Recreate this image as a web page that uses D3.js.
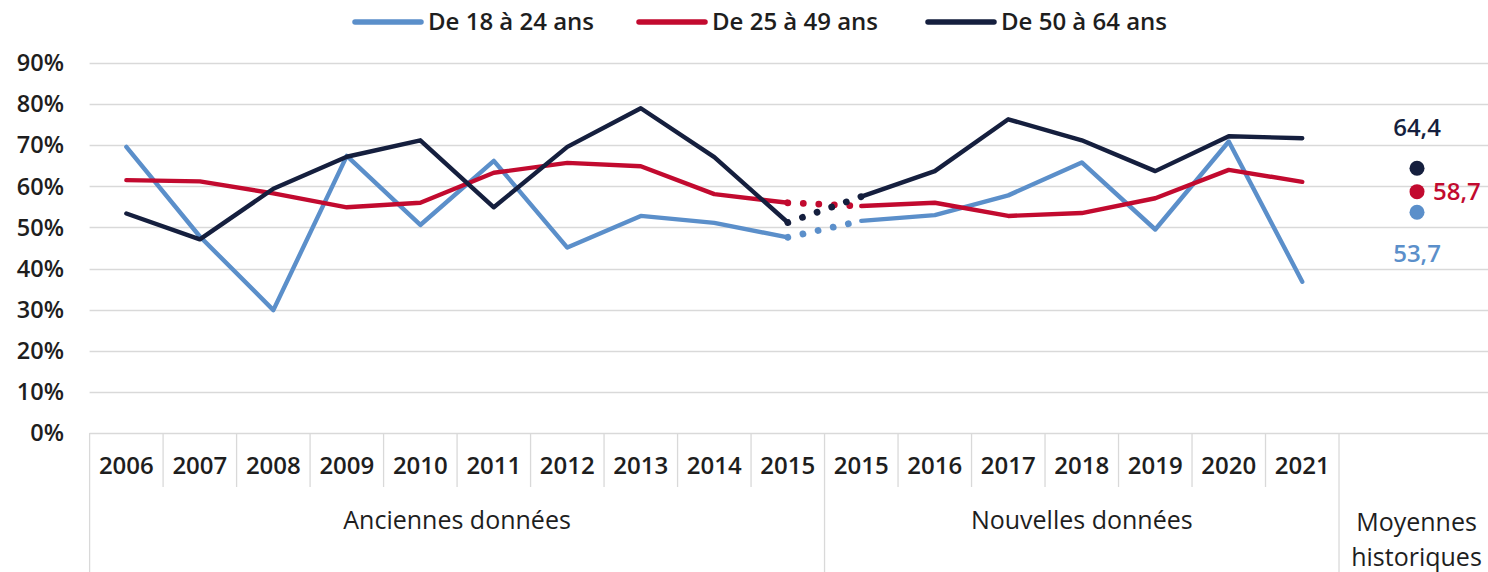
<!DOCTYPE html>
<html><head><meta charset="utf-8">
<script src="https://cdn.jsdelivr.net/npm/d3@7"></script>
<style>
html,body{margin:0;padding:0;background:#fff;}
text{font-family:"Open Sans","Noto Sans",sans-serif;}
</style></head>
<body><svg id="c" width="1488" height="572"></svg>
<script>
const categories = ["2006","2007","2008","2009","2010","2011","2012","2013","2014","2015","2015","2016","2017","2018","2019","2020","2021"];
const groups = [
  {label:["Anciennes données"], span:10},
  {label:["Nouvelles données"], span:7},
  {label:["Moyennes","historiques"], span:2}
];
const seriesNames = ["De 18 à 24 ans","De 25 à 49 ans","De 50 à 64 ans"];
const young  = [69.6,47.8,29.9,67.4,50.6,66.2,45.1,52.8,51.1,47.6, 51.6,53.0,57.8,65.8,49.5,70.9,36.8];
const mid    = [61.5,61.2,58.3,54.9,56.0,63.3,65.7,64.9,58.1,56.0, 55.2,56.0,52.8,53.5,57.1,64.0,61.1];
const senior = [53.4,47.1,59.4,67.2,71.2,54.9,69.6,79.0,67.1,51.2, 57.5,63.7,76.3,71.2,63.7,72.2,71.7];
const averages = [53.7, 58.7, 64.4];
const yTicks = [0,10,20,30,40,50,60,70,80,90];
const colors = ["#5b8fca","#c20a2f","#151f3e"];

(function(){
const svg = d3.select("#c");
const W = 1488, H = 572;
const pLeft = 89.6, pRight = 1486, pTop = 63, pBottom = 433;
const nSlots = categories.length + 2;
const x = d3.scaleBand().domain(d3.range(nSlots)).range([pLeft, pRight]).padding(0);
const y = d3.scaleLinear().domain([0, 90]).range([pBottom, pTop]);
const cx = i => x(i) + x.bandwidth()/2;
const grid = "#d9d9d9";
const txt = "#1e1e1e";
const FS = 24;

svg.append("g").selectAll("line").data(yTicks).join("line")
  .attr("x1", pLeft).attr("x2", W).attr("y1", d=>Math.round(y(d))+0.5).attr("y2", d=>Math.round(y(d))+0.5)
  .attr("stroke", grid).attr("stroke-width", 1.3);

svg.append("g").selectAll("text").data(yTicks).join("text")
  .attr("x", 64).attr("y", d=>y(d)).attr("dy","0.35em").attr("text-anchor","end")
  .attr("font-size", 23.5).attr("font-weight", 600).attr("fill", txt)
  .text(d=>d+"%");

const tb = svg.append("g").attr("stroke", grid).attr("stroke-width", 1.3);
tb.append("line").attr("x1", pLeft).attr("x2", pLeft).attr("y1", pBottom).attr("y2", H);
let start = 0;
groups.forEach((g, gi) => {
  const end = start + g.span;
  const gx0 = x(start), gx1 = (end >= nSlots) ? W : x(end);
  if (gi < groups.length - 1) {
    tb.append("line").attr("x1", gx1).attr("x2", gx1).attr("y1", pBottom).attr("y2", H);
    for (let k = start + 1; k < end; k++) {
      tb.append("line").attr("x1", x(k)).attr("x2", x(k)).attr("y1", pBottom).attr("y2", 487);
    }
  }
  const tg = svg.append("text").attr("text-anchor","middle").attr("font-size", 25).attr("fill", txt);
  const mx = gi < groups.length - 1 ? (gx0 + gx1)/2 : (gx0 + gx1)/2 + 3;
  g.label.forEach((l, li) => {
    tg.append("tspan").attr("x", mx).attr("y", (g.label.length>1 ? 522 : 520) + li*35).attr("dy","0.35em").text(l);
  });
  g.mid = mx;
  start = end;
});

svg.append("g").selectAll("text").data(categories).join("text")
  .attr("x", (d,i)=>cx(i)).attr("y", 466).attr("dy","0.35em").attr("text-anchor","middle")
  .attr("font-size", FS).attr("font-weight", 600).attr("fill", txt).text(d=>d);

const allSeries = [young, mid, senior];
const line = d3.line().x(d=>cx(d.i)).y(d=>y(d.v));
allSeries.forEach((s, si) => {
  const pts = s.map((v,i)=>({i,v}));
  const oldPts = pts.slice(0, groups[0].span);
  const newPts = pts.slice(groups[0].span);
  const link = [pts[groups[0].span-1], pts[groups[0].span]];
  [oldPts, newPts].forEach(p => {
    svg.append("path").attr("d", line(p)).attr("fill","none").attr("stroke", colors[si])
      .attr("stroke-width", 4.4).attr("stroke-linejoin","round").attr("stroke-linecap","round");
  });
  svg.append("path").attr("d", line(link)).attr("fill","none").attr("stroke", colors[si])
    .attr("stroke-width", 6.8).attr("stroke-linecap","round").attr("stroke-dasharray","0.01 15.5");
});

const avgX = x(categories.length) + 78;
averages.forEach((v, si) => {
  svg.append("circle").attr("cx", avgX).attr("cy", y(v)).attr("r", 7.5).attr("fill", colors[si]);
});
const fmt = v => String(v).replace(".", ",");
svg.append("text").attr("x", avgX).attr("y", y(averages[2]) - 41).attr("dy","0.35em").attr("text-anchor","middle")
  .attr("font-size", FS).attr("font-weight", 600).attr("fill", colors[2]).text(fmt(averages[2]));
svg.append("text").attr("x", avgX + 16).attr("y", y(averages[1])).attr("dy","0.35em").attr("text-anchor","start")
  .attr("font-size", FS).attr("font-weight", 600).attr("fill", colors[1]).text(fmt(averages[1]));
svg.append("text").attr("x", avgX).attr("y", y(averages[0]) + 41).attr("dy","0.35em").attr("text-anchor","middle")
  .attr("font-size", FS).attr("font-weight", 600).attr("fill", colors[0]).text(fmt(averages[0]));

const legX = [352, 636, 925];
seriesNames.forEach((n, si) => {
  const g = svg.append("g");
  g.append("line").attr("x1", legX[si]+3).attr("x2", legX[si]+69).attr("y1", 22).attr("y2", 22)
    .attr("stroke", colors[si]).attr("stroke-width", 5.5).attr("stroke-linecap","round");
  g.append("text").attr("x", legX[si]+76).attr("y", 22).attr("dy","0.35em")
    .attr("font-size", FS).attr("font-weight", 600).attr("fill", txt).text(n);
});
})();
</script></body></html>
